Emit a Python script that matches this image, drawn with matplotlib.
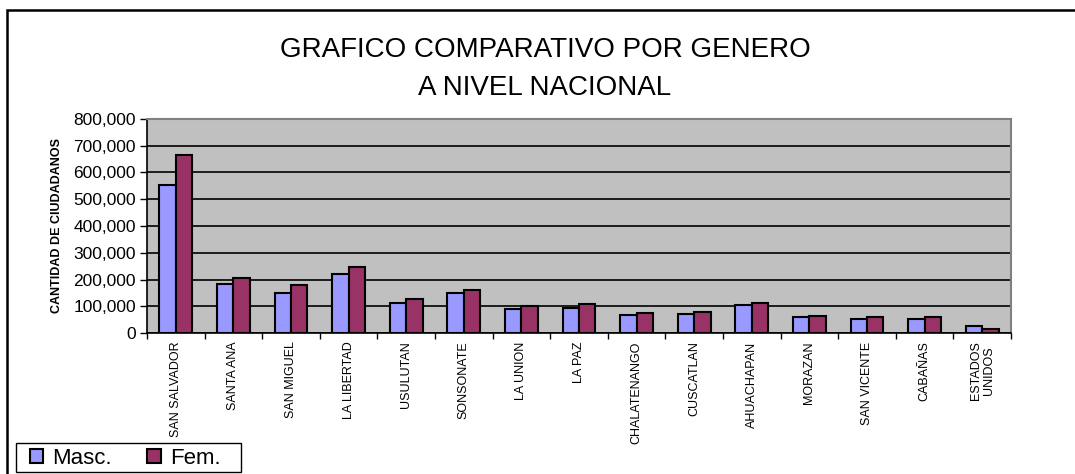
import matplotlib.pyplot as plt
import numpy as np
from matplotlib.patches import Rectangle
from matplotlib.ticker import FuncFormatter

plt.rcParams["font.family"] = ["Liberation Sans", "DejaVu Sans"]

departamentos = ["SAN SALVADOR", "SANTA ANA", "SAN MIGUEL", "LA LIBERTAD", "USULUTAN",
                 "SONSONATE", "LA UNION", "LA PAZ", "CHALATENANGO", "CUSCATLAN",
                 "AHUACHAPAN", "MORAZAN", "SAN VICENTE", "CABAÑAS", "ESTADOS\nUNIDOS"]
masc = [554000, 182000, 151000, 219000, 112000, 148000, 89000, 95000,
        67000, 72000, 104000, 60000, 54000, 51000, 26000]
fem = [667000, 206000, 178000, 245000, 127000, 159000, 100000, 108000,
       73000, 80000, 111000, 65000, 60000, 59000, 15000]

W, H = 1075, 474
fig = plt.figure(figsize=(W / 100, H / 100), dpi=100)
ax = fig.add_axes([147 / W, 1 - 333 / H, (1011 - 147) / W, (333 - 119) / H])

x = np.arange(len(departamentos))
bw = 1 / 3.5
b1 = ax.bar(x - bw / 2, masc, bw, color="#9999FF", edgecolor="black", linewidth=1.5, label="Masc.", zorder=3)
b2 = ax.bar(x + bw / 2, fem, bw, color="#993366", edgecolor="black", linewidth=1.5, label="Fem.", zorder=3)

ax.set_facecolor("#C0C0C0")
ax.set_xlim(-0.5, len(departamentos) - 0.5)
ax.set_ylim(0, 800000)
ax.set_yticks(np.arange(0, 800001, 100000))
ax.yaxis.set_major_formatter(FuncFormatter(lambda v, p: f"{int(v):,}"))
ax.grid(axis="y", color="black", linewidth=1.2, zorder=1)
ax.set_axisbelow(True)

# ticks between categories, labels at centers
ax.set_xticks(np.arange(len(departamentos) + 1) - 0.5)
ax.set_xticklabels([])
ax.tick_params(axis="x", direction="out", length=4, width=1, color="black")
ax.tick_params(axis="y", direction="out", length=5, width=1, labelsize=12.5, pad=3)
for i, name in enumerate(departamentos):
    ax.text(i, -0.04, name, transform=ax.get_xaxis_transform(), rotation=90,
            ha="center", va="top", fontsize=9, linespacing=1.1)

for side in ["top", "right"]:
    ax.spines[side].set_color("#808080")
    ax.spines[side].set_linewidth(1.5)
for side in ["left", "bottom"]:
    ax.spines[side].set_color("black")
    ax.spines[side].set_linewidth(1.2)

ax.set_ylabel("CANTIDAD DE CIUDADANOS", fontsize=9, fontweight="bold")
ax.yaxis.set_label_coords(-(147 - 63) / (1011 - 147), 0.5)

fig.text(545 / W, 1 - 50 / H, "GRAFICO COMPARATIVO POR GENERO", ha="center", va="center", fontsize=20)
fig.text(545 / W, 1 - 88 / H, "A NIVEL NACIONAL", ha="center", va="center", fontsize=20)

# legend without its own frame, box drawn separately
leg = fig.legend(handles=[b1, b2], loc="center left", bbox_to_anchor=(30 / W, 1 - 458 / H),
                 ncol=2, fontsize=16, frameon=False,
                 handlelength=0.6, handleheight=0.6, handletextpad=0.4, columnspacing=1.6,
                 borderpad=0, borderaxespad=0)
fig.patches.append(Rectangle((16 / W, 1 - 472 / H), 225 / W, 29 / H, transform=fig.transFigure,
                             fill=False, edgecolor="black", linewidth=1.0))

# outer chart border
fig.patches.append(Rectangle((7 / W, -0.5), 1.2, 1.5 - 10 / H, transform=fig.transFigure,
                             fill=False, edgecolor="black", linewidth=1.8))

fig.savefig("out.png", dpi=100)
